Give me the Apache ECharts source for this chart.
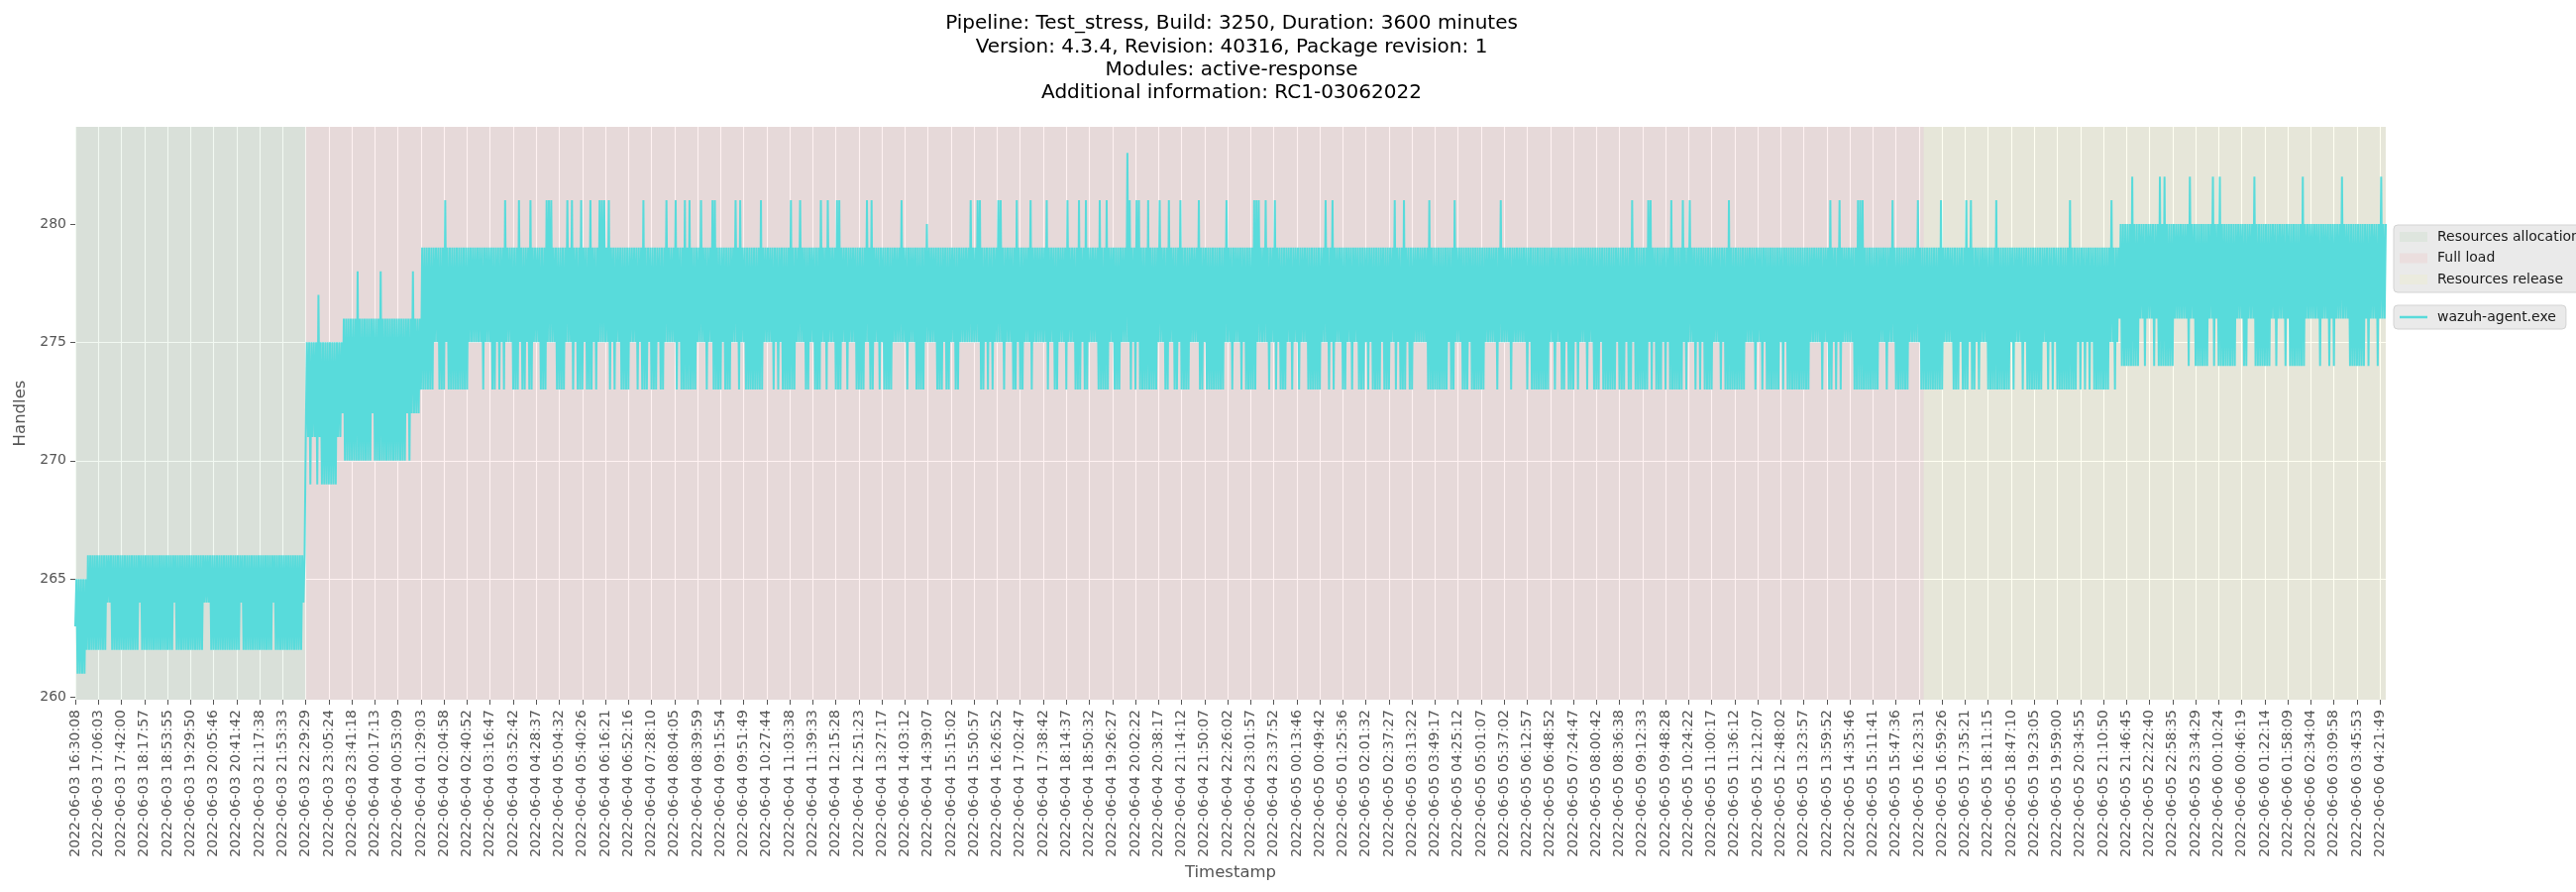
<!DOCTYPE html>
<html>
<head>
<meta charset="utf-8">
<script src="https://cdn.jsdelivr.net/npm/echarts@6/dist/echarts.min.js"></script>
<style>
html,body{margin:0;padding:0;background:#ffffff;}
#chart{width:2600px;height:900px;}
</style>
</head>
<body>
<div id="chart"></div>
<script>
// ---------------- data ----------------
const titleLines = [
  'Pipeline: Test_stress, Build: 3250, Duration: 3600 minutes',
  'Version: 4.3.4, Revision: 40316, Package revision: 1',
  'Modules: active-response',
  'Additional information: RC1-03062022'
];

const tickLabels = [
  '2022-06-03 16:30:08','2022-06-03 17:06:03','2022-06-03 17:42:00','2022-06-03 18:17:57','2022-06-03 18:53:55',
  '2022-06-03 19:29:50','2022-06-03 20:05:46','2022-06-03 20:41:42','2022-06-03 21:17:38','2022-06-03 21:53:33',
  '2022-06-03 22:29:29','2022-06-03 23:05:24','2022-06-03 23:41:18','2022-06-04 00:17:13','2022-06-04 00:53:09',
  '2022-06-04 01:29:03','2022-06-04 02:04:58','2022-06-04 02:40:52','2022-06-04 03:16:47','2022-06-04 03:52:42',
  '2022-06-04 04:28:37','2022-06-04 05:04:32','2022-06-04 05:40:26','2022-06-04 06:16:21','2022-06-04 06:52:16',
  '2022-06-04 07:28:10','2022-06-04 08:04:05','2022-06-04 08:39:59','2022-06-04 09:15:54','2022-06-04 09:51:49',
  '2022-06-04 10:27:44','2022-06-04 11:03:38','2022-06-04 11:39:33','2022-06-04 12:15:28','2022-06-04 12:51:23',
  '2022-06-04 13:27:17','2022-06-04 14:03:12','2022-06-04 14:39:07','2022-06-04 15:15:02','2022-06-04 15:50:57',
  '2022-06-04 16:26:52','2022-06-04 17:02:47','2022-06-04 17:38:42','2022-06-04 18:14:37','2022-06-04 18:50:32',
  '2022-06-04 19:26:27','2022-06-04 20:02:22','2022-06-04 20:38:17','2022-06-04 21:14:12','2022-06-04 21:50:07',
  '2022-06-04 22:26:02','2022-06-04 23:01:57','2022-06-04 23:37:52','2022-06-05 00:13:46','2022-06-05 00:49:42',
  '2022-06-05 01:25:36','2022-06-05 02:01:32','2022-06-05 02:37:27','2022-06-05 03:13:22','2022-06-05 03:49:17',
  '2022-06-05 04:25:12','2022-06-05 05:01:07','2022-06-05 05:37:02','2022-06-05 06:12:57','2022-06-05 06:48:52',
  '2022-06-05 07:24:47','2022-06-05 08:00:42','2022-06-05 08:36:38','2022-06-05 09:12:33','2022-06-05 09:48:28',
  '2022-06-05 10:24:22','2022-06-05 11:00:17','2022-06-05 11:36:12','2022-06-05 12:12:07','2022-06-05 12:48:02',
  '2022-06-05 13:23:57','2022-06-05 13:59:52','2022-06-05 14:35:46','2022-06-05 15:11:41','2022-06-05 15:47:36',
  '2022-06-05 16:23:31','2022-06-05 16:59:26','2022-06-05 17:35:21','2022-06-05 18:11:15','2022-06-05 18:47:10',
  '2022-06-05 19:23:05','2022-06-05 19:59:00','2022-06-05 20:34:55','2022-06-05 21:10:50','2022-06-05 21:46:45',
  '2022-06-05 22:22:40','2022-06-05 22:58:35','2022-06-05 23:34:29','2022-06-06 00:10:24','2022-06-06 00:46:19',
  '2022-06-06 01:22:14','2022-06-06 01:58:09','2022-06-06 02:34:04','2022-06-06 03:09:58','2022-06-06 03:45:53',
  '2022-06-06 04:21:49'
];

const seriesName = 'wazuh-agent.exe';
const phaseNames = ['Resources allocation', 'Full load', 'Resources release'];
// phase limits in tick-label units
const phaseStarts = [0, 10, 80.18];
const phaseEnds = [10, 80.18, 100.25];

// Handles readings, grouped in time buckets (10 buckets between two tick labels).
// baseBands: [firstBucket, lastBucket, usual low, usual high]
const baseBands = [
  [0, 0, 263, 265],
  [1, 4, 261, 265],
  [5, 99, 264, 266],
  [100, 115, 271, 275],
  [116, 149, 272, 276],
  [150, 886, 275, 279],
  [887, 1002, 276, 280]
];
// buckets where the value dropped lower than the usual low
const dips262 = [[5,13],[16,27],[29,42],[44,55],[59,71],[73,85],[87,98]];
const dips269 = [102,105,[107,113]];
const dips270 = [[117,128],[130,141],[142,143],145];
const dips273 = [[150,155],[158,160],[162,170],177,181,182,184,186,[190,192],194,195,197,198,[202,204],209,210,211,212,216,[218,220],222,223,224,226,232,234,237,238,239,240,244,[246,248],[250,252],254,255,261,[263,269],274,[277,280],[282,284],288,[291,298],303,305,[307,312],317,318,321,322,323,326,[330,332],335,
  [339,342],[345,346],349,[351,354],361,365,366,367,368,[374,376],[378,379],[382,383],393,394,396,398,403,407,408,410,411,415,422,425,426,430,[434,436],438,439,[444,448],[451,453],458,460,[462,469],473,474,[477,478],[480,483],488,489,[491,498],502,
  506,[508,512],518,521,[523,525],528,531,[535,540],544,546,550,551,554,[557,559],561,563,564,565,566,568,569,570,573,[575,577],579,580,[587,590],591,592,593,594,595,597,598,[602,604],606,607,608,609,610,611,617,623,630,[632,639],642,645,646,[648,650],652,656,[659,661],[663,668],
  [670,672],674,675,[677,682],684,686,687,688,690,[692,697],699,703,705,[707,710],714,[716,724],729,732,[734,739],741,[743,752],758,[761,762],764,766,[772,782],786,[790,795],[801,810],[815,817],[819,821],823,824,826,[830,839],
  841,845,[847,853],856,858,[860,868],870,872,874,[876,882],885];
const dips274 = [[888,895],898,902,[904,910],917,[920,925],928,[930,937],[941,942],[946,952],955,959,[961,967],974,978,980,[987,993],995,999];
// buckets where the value rose higher than the usual high
const spikes277 = [105];
const spikes278 = [122,132,146];
const spikes280 = [369];
const spikes281 = [160,186,192,197,[204,206],213,215,219,223,[227,229],231,246,256,260,264,266,271,[276,277],286,288,297,310,314,323,326,[330,331],
  343,345,358,388,[391,392],[400,401],408,414,421,430,435,438,444,447,457,460,461,465,470,474,479,487,499,
  [511,513],516,520,542,545,572,576,587,598,618,
  675,[682,683],692,697,700,717,761,765,[773,775],788,799,809,820,822,833,865,883];
const spikes282 = [892,904,906,917,927,930,945,966,983,1000];
const spikes283 = [456];

const yTicks = [260, 265, 270, 275, 280];

// ---------------- build the series ----------------
const bucketsPerTick = 10;
const pointsPerBucket = 2;
const lows = [], highs = [];
baseBands.forEach(([s, e, lo, hi]) => { for (let b = s; b <= e; b++) { lows[b] = lo; highs[b] = hi; } });
function applyList(list, value, target) {
  list.forEach(r => { const s = Array.isArray(r) ? r[0] : r; const e = Array.isArray(r) ? r[1] : r; for (let b = s; b <= e; b++) target[b] = value; });
}
applyList(dips262, 262, lows);
applyList(dips269, 269, lows);
applyList(dips270, 270, lows);
applyList(dips273, 273, lows);
applyList(dips274, 274, lows);
applyList(spikes277, 277, highs);
applyList(spikes278, 278, highs);
applyList(spikes280, 280, highs);
applyList(spikes281, 281, highs);
applyList(spikes282, 282, highs);
applyList(spikes283, 283, highs);

const values = [];
for (let b = 0; b < lows.length; b++) { values.push(lows[b], highs[b]); }
const step = bucketsPerTick * pointsPerBucket;
const xCats = values.map((v, i) => (i % step === 0 && tickLabels[i / step]) ? tickLabels[i / step] : String(i));
const onTick = (index) => index % step === 0;

const FONT = 'DejaVu Sans';
const lineColor = '#58dbdb';
const areaColors = ['rgba(0,128,0,0.05)', 'rgba(255,0,0,0.05)', 'rgba(255,255,0,0.05)'];
const patchColors = ['#dee5de', '#ebdede', '#ebebde'];

const phaseSeries = phaseNames.map((name, k) => ({
  name: name,
  type: 'line',
  data: [],
  symbol: 'none',
  itemStyle: { color: patchColors[k] },
  lineStyle: { color: patchColors[k] },
  silent: true,
  markArea: {
    silent: true,
    itemStyle: { color: areaColors[k], borderWidth: 0 },
    data: [[{ xAxis: Math.round(phaseStarts[k] * step) }, { xAxis: Math.min(values.length - 1, Math.round(phaseEnds[k] * step)) }]]
  }
}));

const chart = echarts.init(document.getElementById('chart'), null, { renderer: 'canvas' });
chart.setOption({
  animation: false,
  backgroundColor: '#ffffff',
  textStyle: { fontFamily: FONT },
  graphic: [{
    type: 'text',
    x: 1243, y: 12.5,
    style: {
      text: titleLines.join('\n'),
      fill: '#000000',
      font: '20px "DejaVu Sans"',
      lineHeight: 23.2,
      align: 'center',
      verticalAlign: 'top'
    }
  }],
  grid: {
    left: 76, right: 192, top: 128, bottom: 194,
    show: true, backgroundColor: '#e5e5e5', borderWidth: 0
  },
  legend: [
    {
      data: phaseNames.map((n, k) => ({ name: n, icon: 'rect', itemStyle: { color: patchColors[k] } })),
      orient: 'vertical',
      left: 2416, top: 227,
      itemWidth: 28, itemHeight: 10, itemGap: 7.5,
      padding: [5, 8, 6, 6],
      backgroundColor: '#eaeaea', borderColor: '#d3d3d3', borderWidth: 1, borderRadius: 4,
      textStyle: { fontFamily: FONT, fontSize: 14, color: '#1a1a1a', padding: [0, 0, 0, 5] },
      selectedMode: false
    },
    {
      data: [{ name: seriesName, icon: 'rect', itemStyle: { color: lineColor } }],
      orient: 'vertical',
      left: 2416, top: 308,
      itemWidth: 28, itemHeight: 2.5,
      padding: [5, 10, 5, 6],
      backgroundColor: '#eaeaea', borderColor: '#d3d3d3', borderWidth: 1, borderRadius: 4,
      textStyle: { fontFamily: FONT, fontSize: 14, color: '#1a1a1a', padding: [0, 0, 0, 5] },
      selectedMode: false
    }
  ],
  xAxis: {
    type: 'category',
    data: xCats,
    boundaryGap: false,
    name: 'Timestamp',
    nameLocation: 'middle',
    nameGap: 161,
    nameTextStyle: { fontFamily: FONT, fontSize: 16.5, color: '#555555' },
    axisLine: { show: false },
    axisTick: { show: true, interval: onTick, length: 5, lineStyle: { color: '#555555', width: 1 } },
    axisLabel: { show: true, interval: onTick, rotate: 90, margin: 10, fontFamily: FONT, fontSize: 14, color: '#555555' },
    splitLine: { show: true, interval: onTick, lineStyle: { color: '#ffffff', width: 1.1 } }
  },
  yAxis: {
    type: 'value',
    min: 259.9,
    max: 284.1,
    name: 'Handles',
    nameLocation: 'middle',
    nameGap: 42,
    nameTextStyle: { fontFamily: FONT, fontSize: 16.5, color: '#555555' },
    axisLine: { show: false },
    axisTick: { show: true, length: 5, customValues: yTicks, lineStyle: { color: '#555555', width: 1 } },
    axisLabel: { show: true, margin: 9, customValues: yTicks, fontFamily: FONT, fontSize: 14, color: '#555555' },
    splitLine: { show: true, showMinLine: false, showMaxLine: false, lineStyle: { color: '#ffffff', width: 1.1 } }
  },
  series: phaseSeries.concat([{
    name: seriesName,
    type: 'line',
    data: values,
    symbol: 'none',
    showSymbol: false,
    sampling: null,
    z: 3,
    lineStyle: { color: lineColor, width: 2 },
    itemStyle: { color: lineColor },
    silent: true
  }])
});
</script>
</body>
</html>
